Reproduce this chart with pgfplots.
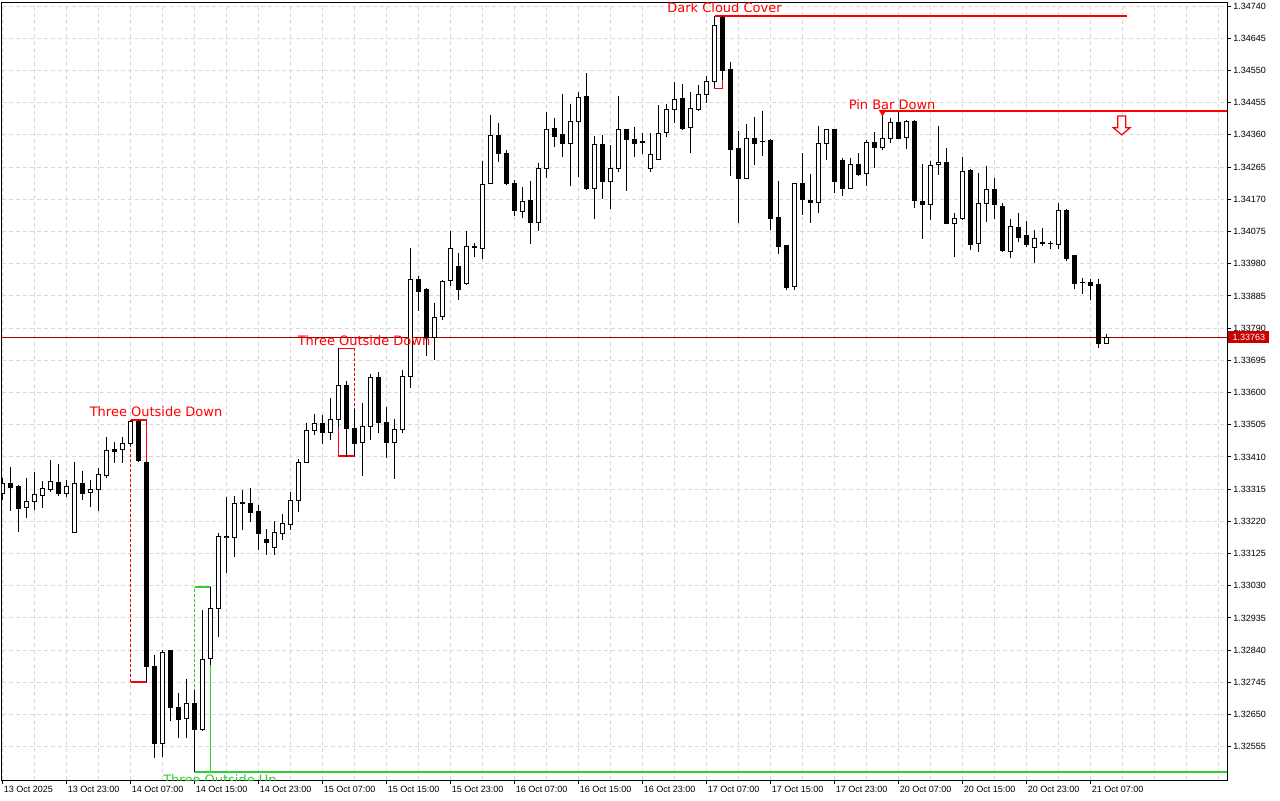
\documentclass[border=0pt]{standalone}
\usepackage{fontspec}
\setmainfont{Liberation Sans}
\newfontfamily\annfont{DejaVu Sans}
\usepackage{pgfplots}
\usepackage{pgfplotstable}
\pgfplotsset{compat=1.18}

\definecolor{GridGray}{HTML}{D9D9D9}
\definecolor{PatRed}{HTML}{FF0000}
\definecolor{PatGreen}{HTML}{32CD32}
\definecolor{PriceLine}{HTML}{A00000}
\definecolor{PriceBox}{HTML}{C80000}

% hourly candles, i = bar index
\pgfplotstableread{
i o h l c
0 1.33304 1.33348 1.33283 1.33333
1 1.33333 1.33380 1.33251 1.33321
2 1.33324 1.33327 1.33189 1.33259
3 1.33262 1.33348 1.33230 1.33280
4 1.33280 1.33366 1.33254 1.33298
5 1.33298 1.33339 1.33259 1.33318
6 1.33315 1.33401 1.33307 1.33339
7 1.33336 1.33389 1.33295 1.33304
8 1.33304 1.33342 1.33292 1.33324
9 1.33189 1.33395 1.33186 1.33333
10 1.33333 1.33369 1.33283 1.33304
11 1.33307 1.33342 1.33262 1.33315
12 1.33315 1.33377 1.33251 1.33357
13 1.33357 1.33469 1.33348 1.33430
14 1.33433 1.33454 1.33392 1.33428
15 1.33433 1.33469 1.33392 1.33451
16 1.33451 1.33519 1.33442 1.33516
17 1.33516 1.33519 1.33395 1.33401
18 1.33395 1.33398 1.32746 1.32793
19 1.32793 1.32826 1.32522 1.32566
20 1.32566 1.32841 1.32525 1.32835
21 1.32838 1.32841 1.32634 1.32672
22 1.32672 1.32714 1.32581 1.32637
23 1.32640 1.32755 1.32581 1.32684
24 1.32684 1.32723 1.32481 1.32607
25 1.32607 1.32959 1.32602 1.32814
26 1.32814 1.33026 1.32796 1.32964
27 1.32964 1.33186 1.32879 1.33174
28 1.33174 1.33292 1.33068 1.33177
29 1.33174 1.33295 1.33115 1.33274
30 1.33274 1.33313 1.33195 1.33277
31 1.33274 1.33318 1.33218 1.33248
32 1.33251 1.33268 1.33136 1.33186
33 1.33168 1.33197 1.33121 1.33159
34 1.33144 1.33224 1.33121 1.33186
35 1.33186 1.33242 1.33165 1.33215
36 1.33212 1.33307 1.33195 1.33283
37 1.33283 1.33404 1.33248 1.33395
38 1.33395 1.33510 1.33392 1.33490
39 1.33490 1.33537 1.33475 1.33510
40 1.33510 1.33534 1.33448 1.33484
41 1.33484 1.33584 1.33460 1.33522
42 1.33522 1.33731 1.33498 1.33622
43 1.33622 1.33637 1.33410 1.33495
44 1.33495 1.33554 1.33413 1.33451
45 1.33454 1.33569 1.33354 1.33501
46 1.33501 1.33655 1.33460 1.33646
47 1.33646 1.33661 1.33481 1.33513
48 1.33513 1.33560 1.33407 1.33454
49 1.33454 1.33522 1.33345 1.33492
50 1.33492 1.33667 1.33481 1.33649
51 1.33649 1.34029 1.33616 1.33935
52 1.33935 1.33944 1.33841 1.33900
53 1.33905 1.33908 1.33708 1.33764
54 1.33764 1.33864 1.33696 1.33823
55 1.33823 1.33932 1.33814 1.33929
56 1.33932 1.34077 1.33914 1.34026
57 1.33973 1.34012 1.33873 1.33905
58 1.33923 1.34077 1.33917 1.34032
59 1.34032 1.34041 1.34000 1.34029
60 1.34026 1.34283 1.33994 1.34215
61 1.34218 1.34419 1.34215 1.34360
62 1.34360 1.34395 1.34280 1.34307
63 1.34307 1.34318 1.34215 1.34218
64 1.34218 1.34227 1.34121 1.34136
65 1.34136 1.34206 1.34115 1.34165
66 1.34168 1.34224 1.34038 1.34103
67 1.34103 1.34277 1.34077 1.34262
68 1.34262 1.34428 1.34233 1.34377
69 1.34380 1.34410 1.34324 1.34357
70 1.34360 1.34481 1.34295 1.34336
71 1.34336 1.34451 1.34209 1.34401
72 1.34401 1.34487 1.34236 1.34472
73 1.34475 1.34543 1.34200 1.34203
74 1.34203 1.34357 1.34112 1.34333
75 1.34333 1.34360 1.34171 1.34224
76 1.34224 1.34330 1.34141 1.34262
77 1.34262 1.34475 1.34251 1.34377
78 1.34377 1.34380 1.34195 1.34348
79 1.34348 1.34383 1.34295 1.34336
80 1.34342 1.34366 1.34304 1.34339
81 1.34262 1.34366 1.34251 1.34304
82 1.34289 1.34448 1.34286 1.34366
83 1.34369 1.34451 1.34354 1.34436
84 1.34436 1.34519 1.34398 1.34466
85 1.34469 1.34510 1.34375 1.34380
86 1.34383 1.34487 1.34307 1.34439
87 1.34436 1.34507 1.34431 1.34481
88 1.34481 1.34534 1.34454 1.34519
89 1.34519 1.34711 1.34498 1.34684
90 1.34708 1.34711 1.34522 1.34549
91 1.34552 1.34575 1.34239 1.34318
92 1.34321 1.34372 1.34103 1.34233
93 1.34233 1.34392 1.34230 1.34351
94 1.34351 1.34413 1.34271 1.34336
95 1.34342 1.34431 1.34298 1.34342
96 1.34345 1.34348 1.34080 1.34115
97 1.34118 1.34224 1.34009 1.34032
98 1.34035 1.34038 1.33905 1.33911
99 1.33914 1.34221 1.33903 1.34218
100 1.34218 1.34307 1.34124 1.34171
101 1.34168 1.34245 1.34100 1.34162
102 1.34162 1.34386 1.34130 1.34336
103 1.34336 1.34375 1.34286 1.34375
104 1.34375 1.34377 1.34189 1.34224
105 1.34286 1.34292 1.34180 1.34203
106 1.34203 1.34292 1.34200 1.34274
107 1.34274 1.34307 1.34239 1.34242
108 1.34248 1.34345 1.34209 1.34339
109 1.34339 1.34369 1.34262 1.34324
110 1.34324 1.34431 1.34318 1.34351
111 1.34351 1.34410 1.34339 1.34398
112 1.34398 1.34428 1.34351 1.34351
113 1.34354 1.34404 1.34321 1.34401
114 1.34401 1.34404 1.34147 1.34168
115 1.34165 1.34274 1.34053 1.34156
116 1.34156 1.34283 1.34109 1.34271
117 1.34274 1.34386 1.34242 1.34280
118 1.34280 1.34321 1.34097 1.34100
119 1.34100 1.34130 1.34000 1.34115
120 1.34115 1.34295 1.34109 1.34254
121 1.34257 1.34262 1.34021 1.34038
122 1.34041 1.34248 1.34015 1.34159
123 1.34159 1.34271 1.34106 1.34198
124 1.34198 1.34233 1.34112 1.34156
125 1.34150 1.34159 1.34015 1.34018
126 1.34015 1.34112 1.33997 1.34088
127 1.34088 1.34130 1.34044 1.34059
128 1.34062 1.34106 1.34029 1.34038
129 1.34029 1.34080 1.33982 1.34053
130 1.34041 1.34085 1.34032 1.34038
131 1.34041 1.34047 1.34023 1.34041
132 1.34038 1.34159 1.34023 1.34136
133 1.34139 1.34141 1.33988 1.33997
134 1.34003 1.34003 1.33905 1.33923
135 1.33926 1.33938 1.33891 1.33926
136 1.33926 1.33935 1.33873 1.33917
137 1.33920 1.33935 1.33734 1.33746
138 1.33746 1.33773 1.33746 1.33763
}\candles

\begin{document}
\begin{tikzpicture}
\useasboundingbox (0,0) rectangle (640pt,-400pt);
\begin{axis}[
  at={(1pt,-1pt)}, anchor=north west,
  scale only axis, width=612.5pt, height=389pt,
  xmin=-0.0625, xmax=153.06, ymin=1.32457, ymax=1.34752,
  axis line style={black, line width=0.5pt},
  tick style={black, line width=0.5pt},
  tick align=outside, major tick length=2pt, minor tick length=0pt,
  xtick pos=left, ytick pos=right, yticklabel pos=right,
  scaled y ticks=false,
  xtick={0,8,...,136},
  xticklabels={13 Oct 2025,13 Oct 23:00,14 Oct 07:00,14 Oct 15:00,14 Oct 23:00,15 Oct 07:00,15 Oct 15:00,15 Oct 23:00,16 Oct 07:00,16 Oct 15:00,16 Oct 23:00,17 Oct 07:00,17 Oct 15:00,17 Oct 23:00,20 Oct 07:00,20 Oct 15:00,20 Oct 23:00,21 Oct 07:00},
  minor xtick={0,4,...,152},
  ytick={1.32555,1.32650,1.32745,1.32840,1.32935,1.33030,1.33125,1.33220,1.33315,1.33410,1.33505,1.33600,1.33695,1.33790,1.33885,1.33980,1.34075,1.34170,1.34265,1.34360,1.34455,1.34550,1.34645,1.34740},
  yticklabels={1.32555,1.32650,1.32745,1.32840,1.32935,1.33030,1.33125,1.33220,1.33315,1.33410,1.33505,1.33600,1.33695,1.33790,1.33885,1.33980,1.34075,1.34170,1.34265,1.34360,1.34455,1.34550,1.34645,1.34740},
  xmajorgrids=false, xminorgrids=true, ymajorgrids=true,
  major grid style={GridGray, dash pattern=on 2pt off 1.5pt, line width=0.5pt},
  minor grid style={GridGray, dash pattern=on 2pt off 1.5pt, line width=0.5pt},
  ticklabel style={font=\fontsize{4.5}{5}\selectfont},
  xticklabel style={anchor=north west, inner sep=0pt, xshift=0.5pt, yshift=-1pt},
  yticklabel style={anchor=west, inner sep=0pt, xshift=1pt},
]
% current price line
\addplot[PriceLine, line width=0.5pt, forget plot] coordinates {(-1,1.33763) (160,1.33763)};

% pattern boxes sit behind the candles
% Three Outside Down (bars 16-18)
\addplot[PatRed, line width=0.6pt, forget plot] coordinates {(16,1.33519) (18,1.33519) (18,1.32746) (16,1.32746)};
\addplot[PatRed, line width=0.6pt, dash pattern=on 1.5pt off 1pt, forget plot] coordinates {(16,1.32746) (16,1.33519)};
% Three Outside Down (bars 42-44)
\addplot[PatRed, line width=0.6pt, forget plot] coordinates {(44,1.33731) (42,1.33731) (42,1.33413) (44,1.33413)};
\addplot[PatRed, line width=0.6pt, dash pattern=on 1.5pt off 1pt, forget plot] coordinates {(44,1.33413) (44,1.33731)};
% Three Outside Up (bars 24-26)
\addplot[PatGreen, line width=0.9pt, dash pattern=on 1.5pt off 1pt, forget plot] coordinates {(24,1.32481) (24,1.33026)};
\addplot[PatGreen, line width=0.9pt, forget plot] coordinates {(24,1.33026) (26,1.33026) (26,1.32481)};
\addplot[PatGreen, line width=1pt, forget plot] coordinates {(24,1.32481) (160,1.32481)};
% Dark Cloud Cover (bars 89-90)
\addplot[PatRed, line width=0.6pt, forget plot] coordinates {(89,1.34711) (89,1.34498) (90,1.34498) (90,1.34711) (89,1.34711)};
\addplot[PatRed, line width=1pt, forget plot] coordinates {(90,1.34711) (140.56,1.34711)};
% Pin Bar Down
\addplot[PatRed, line width=1pt, forget plot, mark=triangle*, mark indices={1},
  mark options={rotate=180, scale=0.6, yshift=1pt}] coordinates {(110,1.34431) (160,1.34431)};

% wicks
\addplot[draw=none, mark=none, forget plot,
  error bars/.cd, y dir=both, y explicit, error mark=none,
  error bar style={draw=black, line width=0.5pt, solid}]
  table[x=i, y expr={(\thisrow{h}+\thisrow{l})/2}, y error expr={(\thisrow{h}-\thisrow{l})/2}] {\candles};
% bodies, black outline / fill
\addplot[draw=none, mark=none, forget plot,
  error bars/.cd, y dir=both, y explicit, error mark=none,
  error bar style={draw=black, line width=2.5pt, solid}]
  table[x=i, y expr={(\thisrow{o}+\thisrow{c})/2}, y error expr={abs(\thisrow{c}-\thisrow{o})/2+0.0000148}] {\candles};
% hollow inside of rising candles
\addplot[draw=none, mark=none, forget plot,
  error bars/.cd, y dir=both, y explicit, error mark=none,
  error bar style={draw=white, line width=1.5pt, solid}]
  table[x=i, y expr={(\thisrow{o}+\thisrow{c})/2}, y error expr={\thisrow{c}>\thisrow{o} ? max(abs(\thisrow{c}-\thisrow{o})/2-0.0000148,0) : 0}] {\candles};

% sell arrow
\addplot[draw=PatRed, fill=white, line width=0.6pt, forget plot] coordinates {
  (139.4,1.34416) (140.4,1.34416) (140.4,1.34381) (140.94,1.34381)
  (139.9,1.34360) (138.85,1.34381) (139.4,1.34381) (139.4,1.34416)};

\node[text=PatRed, font=\annfont\fontsize{6.5}{7}\selectfont, anchor=base, inner sep=0pt] at (axis cs:19.19,1.33528) {Three Outside Down};
\node[text=PatRed, font=\annfont\fontsize{6.5}{7}\selectfont, anchor=base, inner sep=0pt] at (axis cs:45.19,1.33740) {Three Outside Down};
\node[text=PatRed, font=\annfont\fontsize{6.5}{7}\selectfont, anchor=base, inner sep=0pt] at (axis cs:90.25,1.34720) {Dark Cloud Cover};
\node[text=PatRed, font=\annfont\fontsize{6.5}{7}\selectfont, anchor=base, inner sep=0pt] at (axis cs:111.2,1.34436) {Pin Bar Down};
\node[text=PatGreen, font=\annfont\fontsize{6.5}{7}\selectfont, anchor=base, inner sep=0pt] at (axis cs:27.19,1.32445) {Three Outside Up};

\coordinate (pricept) at (axis cs:153.06,1.33763);
\end{axis}
\node[fill=PriceBox, text=white, font=\fontsize{4.5}{5}\selectfont, inner sep=0pt,
  minimum width=20.5pt, minimum height=6pt, anchor=west] at ([xshift=0.5pt]pricept) {1.33763};
\end{tikzpicture}
\end{document}
